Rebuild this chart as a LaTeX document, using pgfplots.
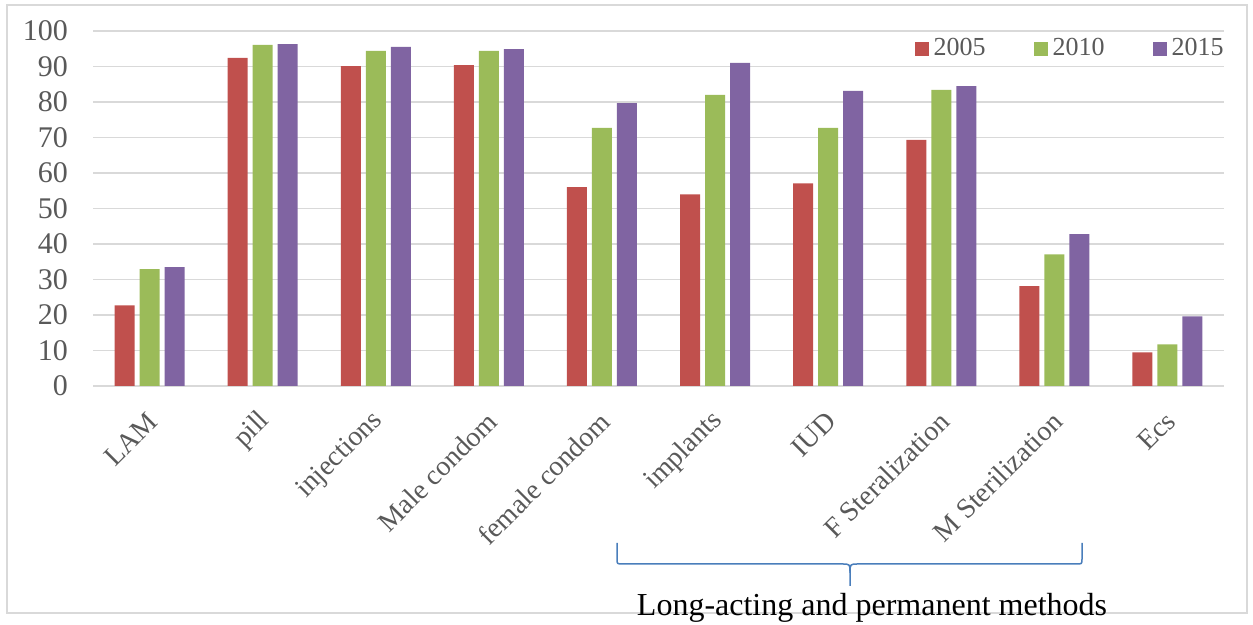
\documentclass[border=0pt]{standalone}
\usepackage{pgfplots}
\pgfplotsset{compat=1.18}
\usepackage{fontspec}
\setmainfont{Liberation Serif}

\definecolor{c2005}{HTML}{C0504D}
\definecolor{c2010}{HTML}{9BBB59}
\definecolor{c2015}{HTML}{8064A2}
\definecolor{gridgray}{HTML}{D9D9D9}
\definecolor{labelgray}{HTML}{595959}
\definecolor{bracketblue}{HTML}{4A7EBB}

% Awareness of each method (%), by survey year
\pgfplotstableread{
x  y2005 y2010 y2015
0  22.7  32.9  33.5
1  92.4  96.1  96.3
2  90.1  94.4  95.5
3  90.4  94.4  94.9
4  56.0  72.7  79.7
5  54.0  82.0  91.0
6  57.1  72.7  83.1
7  69.3  83.4  84.5
8  28.1  37.1  42.8
9   9.5  11.7  19.6
}\methods

\begin{document}
\begin{tikzpicture}
\path[use as bounding box] (0pt,0pt) rectangle (626.5pt,312.5pt);
% outer chart frame
\draw[gridgray, line width=0.75pt] (3.5pt,6pt) rectangle (623.5pt,310pt);

\begin{axis}[
  at={(46.5pt,119.5pt)}, anchor=south west,
  scale only axis, width=565.5pt, height=177.5pt,
  xmin=-0.5, xmax=9.5, ymin=0, ymax=100,
  ytick={0,10,...,100},
  xtick={0,...,9},
  xticklabels={LAM,pill,injections,Male condom,female condom,implants,IUD,F Steralization,M Sterilization,Ecs},
  axis line style={draw=none},
  major tick length=0pt,
  ymajorgrids, grid style={gridgray, line width=0.75pt},
  /pgf/number format/assume math mode=true,
  ticklabel style={text=labelgray},
  yticklabel style={font=\fontsize{15}{18}\selectfont, xshift=-9pt},
  xticklabel style={font=\fontsize{14}{17}\selectfont, xshift=4pt, yshift=-13pt, rotate=45, anchor=east},
  ybar, bar width=10pt,
  legend columns=3,
  legend style={at={(1,1)}, anchor=north east, draw=none, fill=none,
    font=\fontsize{13}{15}\selectfont, text=labelgray,
    yshift=1pt, xshift=5.5pt,
    /tikz/every even column/.append style={column sep=21.5pt},
    nodes={inner sep=2.5pt}},
  legend image code/.code={\fill[#1] (0pt,-3.5pt) rectangle (7pt,3.5pt);},
]
\addplot[fill=c2005, draw=none, bar shift=-12.5pt] table[x=x, y=y2005] {\methods};
\addplot[fill=c2010, draw=none, bar shift=0pt] table[x=x, y=y2010] {\methods};
\addplot[fill=c2015, draw=none, bar shift=12.5pt] table[x=x, y=y2015] {\methods};
\legend{2005,2010,2015}
\end{axis}

% brace grouping the long-acting and permanent methods
\draw[bracketblue, line width=0.75pt]
  (308.5pt,41pt) -- (308.5pt,33pt) .. controls (308.5pt,30.5pt) .. (311.5pt,30.5pt)
  -- (421pt,30.5pt) .. controls (425pt,30.5pt) .. (425pt,26pt) -- (425pt,19.5pt);
\draw[bracketblue, line width=0.75pt]
  (541pt,41pt) -- (541pt,33pt) .. controls (541pt,30.5pt) .. (538pt,30.5pt)
  -- (429pt,30.5pt) .. controls (425pt,30.5pt) .. (425pt,26pt);
\node[font=\fontsize{16}{19}\selectfont, text=black, inner sep=0pt] at (436pt,8.5pt)
  {Long-acting and permanent methods};
\end{tikzpicture}
\end{document}
